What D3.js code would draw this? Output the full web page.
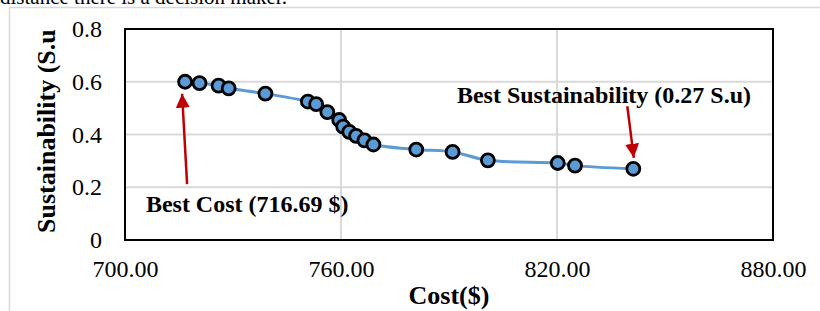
<!DOCTYPE html>
<html>
<head>
<meta charset="utf-8">
<script src="https://cdn.jsdelivr.net/npm/d3@7"></script>
<style>
  body { margin: 0; background: #fff; }
  svg { display: block; }
</style>
</head>
<body>
<div id="chart"></div>
<script>
// data
var costs = [716.69, 720.7, 726.0, 728.8, 739.0, 750.8, 753.1, 756.2, 759.5, 760.6,
             762.3, 764.2, 766.5, 769.0, 780.9, 791.0, 800.8, 820.2, 825.0, 841.2];
var sustain = [0.60, 0.595, 0.585, 0.575, 0.555, 0.525, 0.515, 0.485, 0.455, 0.43,
               0.41, 0.395, 0.378, 0.362, 0.343, 0.334, 0.302, 0.292, 0.282, 0.27];
var xTicks = [700, 760, 820, 880];
var yTicks = [0, 0.2, 0.4, 0.6, 0.8];

var W = 820, H = 311;
var margin = { top: 29, right: 47, bottom: 71, left: 125 },
    width = W - margin.left - margin.right,
    height = H - margin.top - margin.bottom;

var serif = "'Liberation Serif', 'Times New Roman', serif";

var svg = d3.select("#chart")
    .append("svg")
    .attr("width", W)
    .attr("height", H);

// cut-off line of body text above the figure
svg.append("text")
    .attr("x", 0)
    .attr("y", 4)
    .style("font-family", serif)
    .style("font-size", "21px")
    .text("distance there is a decision maker.");

// outer chart frame
svg.append("rect")
    .attr("x", 9.5).attr("y", 7.5)
    .attr("width", W + 20).attr("height", H + 20)
    .style("fill", "none")
    .style("stroke", "#d9d9d9")
    .style("stroke-width", 1.5);

var g = svg.append("g")
    .attr("transform", "translate(" + margin.left + "," + margin.top + ")");

var x = d3.scaleLinear().domain([700, 880]).range([0, width]);
var y = d3.scaleLinear().domain([0, 0.8]).range([height, 0]);

// gridlines
g.selectAll("line.hgrid")
    .data(yTicks.filter(d => d > 0 && d < 0.8))
    .enter().append("line")
    .attr("class", "hgrid")
    .attr("x1", 0).attr("x2", width)
    .attr("y1", d => y(d)).attr("y2", d => y(d))
    .style("stroke", "#d9d9d9").style("stroke-width", 2);

g.selectAll("line.vgrid")
    .data(xTicks.filter(d => d > 700 && d < 880))
    .enter().append("line")
    .attr("class", "vgrid")
    .attr("y1", 0).attr("y2", height)
    .attr("x1", d => x(d)).attr("x2", d => x(d))
    .style("stroke", "#d9d9d9").style("stroke-width", 2);

// axes (labels only, frame drawn below)
g.append("g")
    .attr("class", "xAxis")
    .attr("transform", "translate(0," + height + ")")
    .call(d3.axisBottom(x).tickValues(xTicks).tickFormat(d3.format(".2f")).tickSize(0).tickPadding(20));

g.append("g")
    .attr("class", "yAxis")
    .call(d3.axisLeft(y).tickValues(yTicks).tickFormat(d => d === 0 ? "0" : d3.format(".1f")(d)).tickSize(0).tickPadding(23));

g.selectAll(".xAxis path, .yAxis path").remove();
g.selectAll(".xAxis text, .yAxis text")
    .style("font-family", serif)
    .style("font-size", "24px")
    .style("fill", "#000");

// plot border
g.append("rect")
    .attr("width", width).attr("height", height)
    .style("fill", "none")
    .style("stroke", "#000")
    .style("stroke-width", 2);

// series
var pts = costs.map((c, i) => ({ cost: c, s: sustain[i] }));

var line = d3.line()
    .x(d => x(d.cost))
    .y(d => y(d.s))
    .curve(d3.curveCatmullRom.alpha(0.5));

g.append("path")
    .datum(pts)
    .attr("d", line)
    .style("fill", "none")
    .style("stroke", "#5b9bd5")
    .style("stroke-width", 3);

g.selectAll("circle.pt")
    .data(pts)
    .enter().append("circle")
    .attr("class", "pt")
    .attr("cx", d => x(d.cost))
    .attr("cy", d => y(d.s))
    .attr("r", 6.5)
    .style("fill", "#5b9bd5")
    .style("stroke", "#000")
    .style("stroke-width", 2.8);

// annotations
var red = "#c00000";
svg.append("defs").append("marker")
    .attr("id", "head")
    .attr("viewBox", "0 0 10 10")
    .attr("refX", 10).attr("refY", 5)
    .attr("markerWidth", 5.6).attr("markerHeight", 5.6)
    .attr("markerUnits", "strokeWidth")
    .attr("orient", "auto")
    .append("path")
    .attr("d", "M0,0 L10,5 L0,10 z")
    .style("fill", red);

var best = pts[0], last = pts[pts.length - 1];

g.append("line")
    .attr("x1", x(best.cost) + 2).attr("y1", y(0.212))
    .attr("x2", x(best.cost) - 3).attr("y2", y(best.s) + 12)
    .style("stroke", red).style("stroke-width", 2.5)
    .attr("marker-end", "url(#head)");

g.append("line")
    .attr("x1", x(last.cost) - 6).attr("y1", y(0.507))
    .attr("x2", x(last.cost) + 0.5).attr("y2", y(last.s) - 11)
    .style("stroke", red).style("stroke-width", 2.5)
    .attr("marker-end", "url(#head)");

g.append("text")
    .attr("x", x(705.8)).attr("y", y(0.106))
    .style("font-family", serif).style("font-size", "24px").style("font-weight", "bold")
    .text("Best Cost (716.69 $)");

g.append("text")
    .attr("x", x(792.2)).attr("y", y(0.52))
    .style("font-family", serif).style("font-size", "24px").style("font-weight", "bold")
    .text("Best Sustainability (0.27 S.u)");

// axis titles
svg.append("text")
    .attr("x", margin.left + width / 2)
    .attr("y", 304)
    .attr("text-anchor", "middle")
    .style("font-family", serif).style("font-size", "26px").style("font-weight", "bold")
    .text("Cost($)");

svg.append("text")
    .attr("transform", "translate(55,233) rotate(-90)")
    .style("font-family", serif).style("font-size", "26px").style("font-weight", "bold")
    .text("Sustainability (S.u");
</script>
</body>
</html>
